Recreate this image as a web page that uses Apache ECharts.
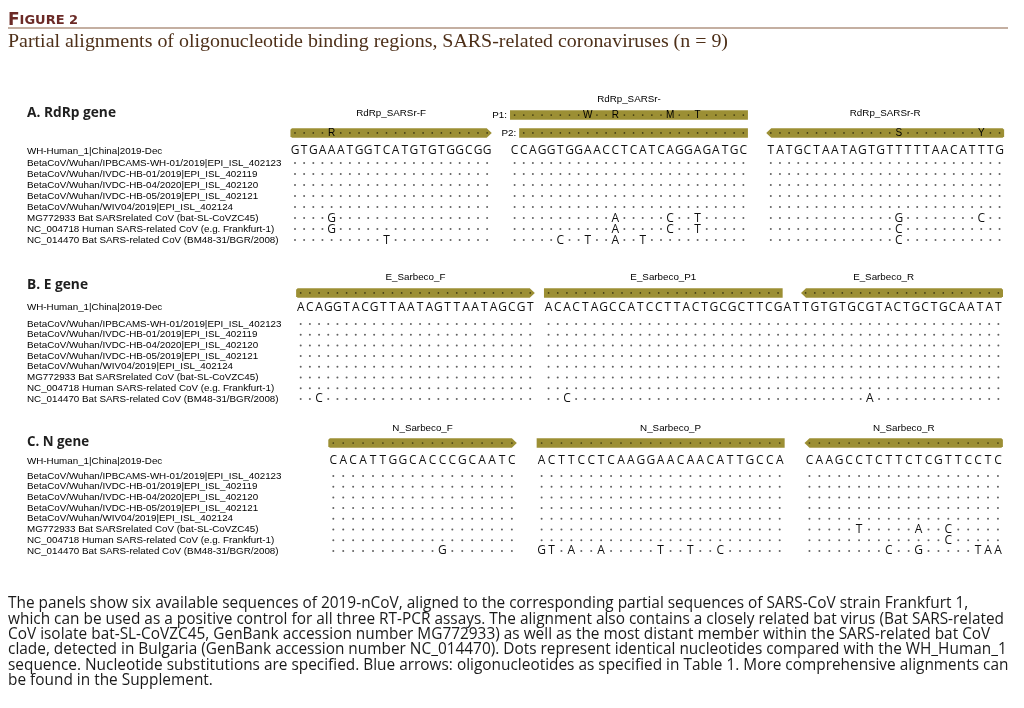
<!DOCTYPE html>
<html>
<head>
<meta charset="utf-8">
<title>Figure 2 - partial alignments</title>
<script src="https://cdn.jsdelivr.net/npm/echarts@6/dist/echarts.min.js"></script>
<style>
  html, body { margin: 0; padding: 0; background: #fff; }
  #chart { width: 1024px; height: 708px; }
</style>
</head>
<body>
<div id="chart"></div>
<script>
// ---- sequence names (same order in every panel) ----
const refName = 'WH-Human_1|China|2019-Dec';
const rowNames = [
  'BetaCoV/Wuhan/IPBCAMS-WH-01/2019|EPI_ISL_402123',
  'BetaCoV/Wuhan/IVDC-HB-01/2019|EPI_ISL_402119',
  'BetaCoV/Wuhan/IVDC-HB-04/2020|EPI_ISL_402120',
  'BetaCoV/Wuhan/IVDC-HB-05/2019|EPI_ISL_402121',
  'BetaCoV/Wuhan/WIV04/2019|EPI_ISL_402124',
  'MG772933 Bat SARSrelated CoV (bat-SL-CoVZC45)',
  'NC_004718 Human SARS-related CoV (e.g. Frankfurt-1)',
  'NC_014470 Bat SARS-related CoV (BM48-31/BGR/2008)'
];

// ---- A. RdRp gene ----
const rdrpBlocks = ['GTGAAATGGTCATGTGTGGCGG', 'CCAGGTGGAACCTCATCAGGAGATGC', 'TATGCTAATAGTGTTTTTAACATTTG'];
const rdrpBlockStart = [0, 24, 52];
// [row, column, base]
const rdrpSubs = [
  [5, 4, 'G'], [6, 4, 'G'], [7, 10, 'T'],
  [5, 35, 'A'], [5, 41, 'C'], [5, 44, 'T'],
  [6, 35, 'A'], [6, 41, 'C'], [6, 44, 'T'],
  [7, 29, 'C'], [7, 32, 'T'], [7, 35, 'A'], [7, 38, 'T'],
  [5, 66, 'G'], [5, 75, 'C'], [6, 66, 'C'], [7, 66, 'C']
];
// [first col, last col, direction, track, prefix]
const rdrpPrimers = [
  [0, 21, 'right', 'low', ''],
  [24, 49, 'none', 'high', 'P1:'],
  [25, 49, 'none', 'low', 'P2:'],
  [52, 77, 'left', 'low', '']
];
// [column, track, base]
const rdrpDegenerate = [[4, 'low', 'R'], [32, 'high', 'W'], [35, 'high', 'R'], [41, 'high', 'M'], [44, 'high', 'T'], [66, 'low', 'S'], [75, 'low', 'Y']];
// [text, column, track]
const rdrpLabels = [['RdRp_SARSr-F', 10.5, 'label'], ['RdRp_SARSr-', 36.5, 'labelHigh'], ['RdRp_SARSr-R', 64.5, 'label']];

// ---- B. E gene ----
const eBlocks = ['ACAGGTACGTTAATAGTTAATAGCGT', 'ACACTAGCCATCCTTACTGCGCTTCGATTGTGTGCGTACTGCTGCAATAT'];
const eBlockStart = [0, 27];
const eSubs = [[7, 2, 'C'], [7, 29, 'C'], [7, 62, 'A']];
const ePrimers = [
  [0, 25, 'right', 'bar', ''],
  [27, 52, 'none', 'bar', ''],
  [55, 76, 'left', 'bar', '']
];
const eDegenerate = [];
const eLabels = [['E_Sarbeco_F', 12.5, 'label'], ['E_Sarbeco_P1', 39.5, 'label'], ['E_Sarbeco_R', 63.5, 'label']];

// ---- C. N gene ----
const nBlocks = ['CACATTGGCACCCGCAATC', 'ACTTCCTCAAGGAACAACATTGCCA', 'CAAGCCTCTTCTCGTTCCTC'];
const nBlockStart = [0, 21, 48];
const nSubs = [
  [7, 11, 'G'],
  [7, 21, 'G'], [7, 22, 'T'], [7, 24, 'A'], [7, 27, 'A'], [7, 33, 'T'], [7, 36, 'T'], [7, 39, 'C'],
  [5, 53, 'T'], [5, 59, 'A'], [5, 62, 'C'], [6, 62, 'C'],
  [7, 56, 'C'], [7, 59, 'G'], [7, 65, 'T'], [7, 66, 'A'], [7, 67, 'A']
];
const nPrimers = [
  [0, 18, 'right', 'bar', ''],
  [21, 45, 'none', 'bar', ''],
  [48, 67, 'left', 'bar', '']
];
const nDegenerate = [];
const nLabels = [['N_Sarbeco_F', 9, 'label'], ['N_Sarbeco_P', 34, 'label'], ['N_Sarbeco_R', 57.5, 'label']];

const captionLines = [
  'The panels show six available sequences of 2019-nCoV, aligned to the corresponding partial sequences of SARS-CoV strain Frankfurt 1,',
  'which can be used as a positive control for all three RT-PCR assays. The alignment also contains a closely related bat virus (Bat SARS-related',
  'CoV isolate bat-SL-CoVZC45, GenBank accession number MG772933) as well as the most distant member within the SARS-related bat CoV',
  'clade, detected in Bulgaria (GenBank accession number NC_014470). Dots represent identical nucleotides compared with the WH_Human_1',
  'sequence. Nucleotide substitutions are specified. Blue arrows: oligonucleotides as specified in Table 1. More comprehensive alignments can',
  'be found in the Supplement.'
];

// ---- layout (pixels / axis units) ----
const layout = [
  { col0: 295, step: 9.15, cols: 78, refPx: 151, unit: 11, yMin: -6, yMax: 9, rowOffset: 1.1,
    tracks: { low: -1.64, high: -3.27, label: -3.45, labelHigh: -4.73 }, title: 'A. RdRp gene', titleY: 113, titleW: 89 },
  { col0: 300.7, step: 9.18, cols: 77, refPx: 307.5, unit: 10.7, yMin: -4, yMax: 10, rowOffset: 1.54,
    tracks: { bar: -1.36, label: -2.85 }, title: 'B. E gene', titleY: 285, titleW: 61 },
  { col0: 333.3, step: 9.92, cols: 68, refPx: 461, unit: 10.7, yMin: -4, yMax: 10, rowOffset: 1.4,
    tracks: { bar: -1.68, label: -3.08 }, title: 'C. N gene', titleY: 442, titleW: 62 }
];
const LABEL_X = 27;
const BAR_H = 9.5;
const BAR_COLOR = '#9c8f34';
const SEQ_FONT = '12px "Open Sans"';
const NAME_FONT = '9.8px "Liberation Sans"';
const DEGEN_FONT = '10px "Liberation Sans"';

const panels = [
  { blocks: rdrpBlocks, starts: rdrpBlockStart, subs: rdrpSubs, primers: rdrpPrimers, degenerate: rdrpDegenerate, labels: rdrpLabels },
  { blocks: eBlocks, starts: eBlockStart, subs: eSubs, primers: ePrimers, degenerate: eDegenerate, labels: eLabels },
  { blocks: nBlocks, starts: nBlockStart, subs: nSubs, primers: nPrimers, degenerate: nDegenerate, labels: nLabels }
];

const measureCtx = document.createElement('canvas').getContext('2d');
function textWidth(text, font) {
  measureCtx.font = font;
  return measureCtx.measureText(text).width;
}

// text marks placed through the panel axes; items = [x, y, text]
function textSeries(i, items, font, color, opts) {
  opts = opts || {};
  return {
    type: 'custom', xAxisIndex: i, yAxisIndex: i, silent: true, clip: false, z: opts.z || 5,
    data: items.map(d => [d[0], d[1]]),
    renderItem: (params, api) => {
      const pt = api.coord([api.value(0), api.value(1)]);
      return {
        type: 'text',
        x: opts.fixedX != null ? opts.fixedX : pt[0],
        y: pt[1],
        style: { text: items[params.dataIndex][2], font: font, fill: color,
                 align: opts.align || 'center', verticalAlign: 'middle' }
      };
    }
  };
}

function dotSeries(i, points, size, color) {
  return {
    type: 'scatter', xAxisIndex: i, yAxisIndex: i, silent: true, z: 4,
    symbol: 'circle', symbolSize: size, itemStyle: { color: color },
    data: points
  };
}

function panelSeries(i, p) {
  const L = layout[i];
  const T = L.tracks;
  const rowY = r => L.rowOffset + r;
  const out = [];

  // primer / probe bars
  out.push({
    type: 'custom', xAxisIndex: i, yAxisIndex: i, silent: true, clip: false, z: 2,
    data: p.primers.map(q => [q[0], T[q[3]]]),
    renderItem: (params, api) => {
      const q = p.primers[params.dataIndex];
      const a = api.coord([q[0] - 0.5, T[q[3]]]);
      const b = api.coord([q[1] + 0.5, T[q[3]]]);
      const x0 = a[0], x1 = b[0], y = a[1], h = BAR_H / 2, tip = 5, bev = 1.5;
      let pts;
      if (q[2] === 'right') {
        pts = [[x0, y - h + bev], [x0 + bev, y - h], [x1 - tip, y - h], [x1, y], [x1 - tip, y + h], [x0 + bev, y + h], [x0, y + h - bev]];
      } else if (q[2] === 'left') {
        pts = [[x1, y - h + bev], [x1 - bev, y - h], [x0 + tip, y - h], [x0, y], [x0 + tip, y + h], [x1 - bev, y + h], [x1, y + h - bev]];
      } else {
        pts = [[x0, y - h], [x1, y - h], [x1, y + h], [x0, y + h]];
      }
      const children = [{ type: 'polygon', shape: { points: pts }, style: { fill: BAR_COLOR } }];
      if (q[4]) {
        children.push({ type: 'text', x: x0 - 3, y: y,
          style: { text: q[4], font: NAME_FONT, fill: '#000', align: 'right', verticalAlign: 'middle' } });
      }
      return { type: 'group', children: children };
    }
  });

  // dots inside bars, degenerate bases as letters
  const barDots = [];
  p.primers.forEach(q => {
    for (let c = q[0]; c <= q[1]; c++) {
      if (!p.degenerate.some(d => d[0] === c && d[1] === q[3])) barDots.push([c, T[q[3]]]);
    }
  });
  out.push(Object.assign(dotSeries(i, barDots, 1.7, '#2b270b'), { z: 3 }));
  out.push(textSeries(i, p.degenerate.map(d => [d[0], T[d[1]], d[2]]), DEGEN_FONT, '#000'));

  // primer names
  out.push(textSeries(i, p.labels.map(l => [l[1], T[l[2]], l[0]]), NAME_FONT, '#000'));

  // reference sequence
  const refItems = [];
  p.blocks.forEach((s, b) => {
    for (let k = 0; k < s.length; k++) refItems.push([p.starts[b] + k, 0, s[k]]);
  });
  out.push(textSeries(i, refItems, SEQ_FONT, '#111'));

  // identical nucleotides as dots, substitutions as letters
  const alnDots = [];
  rowNames.forEach((n, r) => {
    refItems.forEach(it => {
      if (!p.subs.some(s => s[0] === r && s[1] === it[0])) alnDots.push([it[0], rowY(r)]);
    });
  });
  out.push(dotSeries(i, alnDots, 2, '#3a3a3a'));
  out.push(textSeries(i, p.subs.map(s => [s[1], rowY(s[0]), s[2]]), SEQ_FONT, '#111'));

  // sequence names on the left
  const nameItems = [[0, 0, refName]].concat(rowNames.map((n, r) => [0, rowY(r), n]));
  out.push(textSeries(i, nameItems, NAME_FONT, '#000', { fixedX: LABEL_X, align: 'left' }));
  return out;
}

const grids = [], xAxes = [], yAxes = [];
let series = [];
layout.forEach((L, i) => {
  grids.push({ left: L.col0 - L.step / 2, width: L.cols * L.step,
               top: L.refPx + L.yMin * L.unit, height: (L.yMax - L.yMin) * L.unit });
  xAxes.push({ gridIndex: i, type: 'value', min: -0.5, max: L.cols - 0.5, show: false });
  yAxes.push({ gridIndex: i, type: 'value', min: L.yMin, max: L.yMax, inverse: true, show: false });
  series = series.concat(panelSeries(i, panels[i]));
});

// titles, rule and caption
const TITLE_FONT = 'bold 15px "Open Sans"';
const SUBTITLE_FONT = '19px "Liberation Serif"';
const CAPTION_FONT = '15.5px "Open Sans"';
const subtitle = 'Partial alignments of oligonucleotide binding regions, SARS-related coronaviruses (n = 9)';
const captionScale = 996 / textWidth(captionLines[1], CAPTION_FONT);

const graphic = [
  { type: 'text', x: 8, y: 20.5,
    style: { text: '{a|F}{b|IGURE 2}', verticalAlign: 'middle',
             rich: { a: { font: 'bold 17px "DejaVu Sans"', fill: '#6b2a26' },
                     b: { font: 'bold 13px "DejaVu Sans"', fill: '#6b2a26' } } } },
  { type: 'line', shape: { x1: 8, y1: 28, x2: 1008, y2: 28 }, style: { stroke: '#8a6144', lineWidth: 1.2 } },
  { type: 'text', x: 8, y: 42, scaleX: 720 / textWidth(subtitle, SUBTITLE_FONT),
    style: { text: subtitle, font: SUBTITLE_FONT, fill: '#4e3019', verticalAlign: 'middle' } }
];
layout.forEach(L => {
  graphic.push({ type: 'text', x: LABEL_X, y: L.titleY, scaleX: L.titleW / textWidth(L.title, TITLE_FONT),
    style: { text: L.title, font: TITLE_FONT, fill: '#1e1e1e', verticalAlign: 'middle' } });
});
captionLines.forEach((line, k) => {
  graphic.push({ type: 'text', x: 8, y: 604 + k * 15.35, scaleX: captionScale,
    style: { text: line, font: CAPTION_FONT, fill: '#1a1a1a', verticalAlign: 'middle' } });
});

const chart = echarts.init(document.getElementById('chart'));
chart.setOption({
  animation: false,
  backgroundColor: '#fff',
  grid: grids,
  xAxis: xAxes,
  yAxis: yAxes,
  graphic: graphic,
  series: series
});
window.addEventListener('resize', chart.resize);
</script>
</body>
</html>
